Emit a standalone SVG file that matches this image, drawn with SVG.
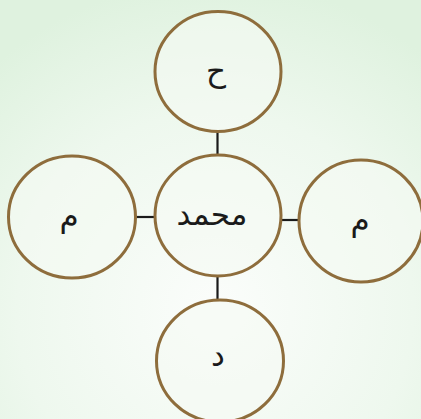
<svg xmlns="http://www.w3.org/2000/svg" width="421" height="419" viewBox="0 0 421 419">
<defs>
<radialGradient id="bg" cx="215" cy="310" r="330" gradientUnits="userSpaceOnUse">
<stop offset="0" stop-color="#fbfdfb"/>
<stop offset="0.6" stop-color="#eef8ee"/>
<stop offset="1" stop-color="#dff2df"/>
</radialGradient>
<style>
.n{fill:#f5faf4;fill-opacity:0.6;stroke:#8e6d3c;stroke-width:3}
.t{font-family:"DejaVu Sans",sans-serif;font-size:31px;fill:#1a1a1a;text-anchor:middle;dominant-baseline:central}
.c{stroke:#1a1a1a;stroke-width:2.2;fill:none}
</style>
</defs>
<rect width="421" height="419" fill="url(#bg)"/>
<g id="connectors">
<line class="c" x1="217.5" y1="131" x2="217.5" y2="156"/>
<line class="c" x1="136" y1="217" x2="155" y2="217"/>
<line class="c" x1="281" y1="220" x2="300" y2="220"/>
<line class="c" x1="217.5" y1="275" x2="217.5" y2="301"/>
</g>
<g id="node-top"><ellipse class="n" cx="218" cy="71.5" rx="63" ry="60"/><text class="t" x="216" y="70">ح</text></g>
<g id="node-center"><ellipse class="n" cx="218" cy="215.5" rx="63" ry="60.5"/><text class="t" x="212" y="214">محمد</text></g>
<g id="node-left"><ellipse class="n" cx="72" cy="217" rx="63.5" ry="61"/><text class="t" x="69" y="216">م</text></g>
<g id="node-right"><ellipse class="n" cx="361" cy="221" rx="62" ry="61"/><text class="t" x="360" y="220">م</text></g>
<g id="node-bottom"><ellipse class="n" cx="220" cy="361" rx="63.5" ry="61"/><text class="t" x="218" y="355">د</text></g>
</svg>
